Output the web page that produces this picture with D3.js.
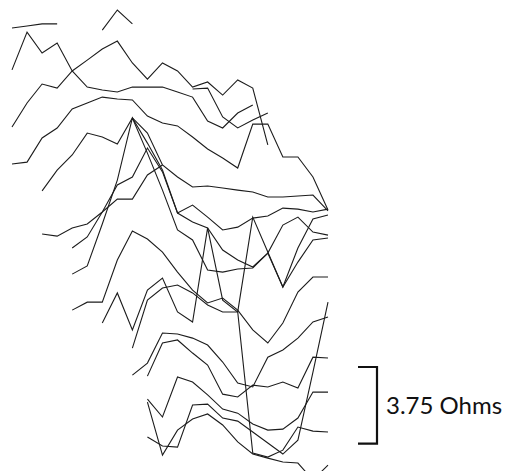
<!DOCTYPE html>
<html>
<head>
<meta charset="utf-8">
<script src="https://cdn.jsdelivr.net/npm/d3@7"></script>
<style>
  html, body { margin: 0; padding: 0; background: #fff; }
  svg { display: block; }
</style>
</head>
<body>
<svg id="chart" width="510" height="471"></svg>
<script>
// Impedance traces, one value per sampling step, in Ohms (offset downward).
// null marks steps where a trace has no reading.
const _ = null;
const steps = [1, 2, 3, 4, 5, 6, 7, 8, 9, 10, 11, 12, 13, 14, 15, 16, 17, 18, 19, 20, 21, 22];

const trace01 = [1.37, 1.27, 1.17, 1.17, _, _, 1.47, 0.49, 1.17, _, _, _, _, _, _, _, _, _, _, _, _, _];
const trace02 = [3.42, 1.57, 2.59, 2.10, 3.47, 4.26, 4.40, 4.50, 4.26, 4.26, 4.26, 4.50, 4.75, 5.92, 6.26, 5.53, 5.14, _, _, _, _, _];
const trace03 = [6.21, 5.04, 4.11, 4.31, 3.47, 2.94, 2.40, 2.01, 3.08, 3.87, 3.08, 3.47, 4.26, 4.01, 4.65, 3.91, 4.31, 7.09, _, _, _, _];
const trace04 = [8.02, 7.93, 6.75, 6.26, 5.33, 5.04, 4.75, 4.84, 4.89, 5.68, 6.02, 6.16, 6.70, 7.29, 7.73, 8.22, 6.07, 6.07, 7.68, 7.68, 8.66, 10.27];
const trace05 = [_, _, _, _, _, _, _, _, _, _, _, _, 4.35, 4.31, 5.72, 6.26, 5.87, 5.53, _, _, _, _];
const trace06 = [_, _, 9.34, 8.32, 7.58, 6.51, 6.70, 7.05, 5.77, 6.51, 8.07, 8.66, 9.15, 9.10, 9.20, 9.30, 9.39, 9.64, 9.64, 9.59, 9.54, 10.32];
const trace07 = [_, _, 11.45, 11.55, 11.15, 10.96, 10.37, 9.74, 9.74, 8.56, 8.07, _, _, _, _, _, _, _, _, _, _, _];
const trace08 = [_, _, _, _, 12.13, 11.59, 10.37, 9.05, 8.66, 7.24, 8.41, 10.42, 10.03, 10.62, 11.25, 11.11, 10.67, 10.57, 10.18, 10.23, 10.37, 10.23];
const trace09 = [_, _, _, _, 13.41, 13.01, 10.96, 8.81, 5.77, 7.49, 9.30, 11.25, 11.74, 13.21, 13.31, 13.16, 13.11, 12.38, 14.04, 12.82, 11.74, 11.64];
const trace10 = [_, _, _, _, _, _, _, _, 5.77, 7.00, 8.32, 10.42, 10.86, 11.15, 12.23, 12.72, 13.06, 12.38, 11.01, 10.62, 11.35, 11.50];
const trace11 = [_, _, _, _, 15.17, 14.78, 14.78, 12.72, 11.30, 11.69, 12.33, 13.31, 14.19, 14.82, 14.58, 15.17, 16.14, 16.78, 15.80, 14.29, 13.55, 13.55];
const trace12 = [_, _, _, _, _, _, _, _, 18.35, 17.76, 16.29, 16.34, 16.54, 16.88, 17.71, 18.74, 18.93, 17.47, 17.12, 16.54, 15.75, 15.51];
const trace13 = [_, _, _, _, _, _, _, _, _, 18.40, 16.78, 16.63, 17.27, 17.86, 19.28, 19.42, 18.84, 18.93, 18.69, 18.98, 17.47, 17.51];
const trace14 = [_, _, _, _, _, _, _, _, _, 19.52, 20.40, 18.44, 18.69, 19.32, 20.01, 20.21, 20.74, 21.04, 20.99, 20.45, 19.18, 19.18];
const trace15 = [_, _, _, _, _, _, _, _, _, 21.38, 21.82, 21.87, 19.81, 19.77, 20.45, 20.60, 21.13, 21.67, 22.21, 21.53, 18.20, 14.78];
const trace16 = [_, _, _, _, _, _, _, _, _, 19.67, 22.26, 21.04, 20.50, 20.25, 20.79, 21.62, 22.21, 22.41, 22.60, 22.65, 23.48, 22.75];
const trace17 = [_, _, _, _, _, _, 15.80, 14.33, 16.14, 14.19, 13.60, 15.26, 15.75, 11.15, 14.68, 15.26, 22.16, 22.36, 22.02, 20.89, 21.09, 21.13];
const trace18 = [_, _, _, _, _, _, _, _, 17.03, 14.68, 14.09, 13.94, 14.33, 14.92, 15.26, 15.26, 10.62, 12.33, 14.04, 12.13, 10.71, 10.52];

const traces = [trace01, trace02, trace03, trace04, trace05, trace06, trace07, trace08, trace09,
                trace10, trace11, trace12, trace13, trace14, trace15, trace16, trace17, trace18];

const scaleBarOhms = 3.75;
const scaleBarLabel = "3.75 Ohms";

const width = 510, height = 471;
const svg = d3.select("#chart");

const x = d3.scaleLinear().domain([steps[0], steps[steps.length - 1]]).range([12, 328]);
const y = d3.scaleLinear().domain([0, 23.04]).range([0, height]);

const line = d3.line()
  .defined(d => d.v !== null)
  .x(d => x(d.step))
  .y(d => y(d.v));

svg.append("g")
  .attr("class", "traces")
  .selectAll("path")
  .data(traces)
  .join("path")
  .attr("d", t => line(t.map((v, i) => ({ step: steps[i], v }))))
  .attr("fill", "none")
  .attr("stroke", "#1c1c1c")
  .attr("stroke-width", 1.1)
  .attr("stroke-linejoin", "miter");

// Scale bar: a bracket whose height is 3.75 Ohms on the trace scale
const barTop = 367;
const barRight = 377;
const barLeft = 358;
const barH = y(scaleBarOhms) - y(0);
const bar = svg.append("g").attr("class", "scale-bar");
bar.append("path")
  .attr("d", `M${barLeft},${barTop}H${barRight}V${barTop + barH}H${barLeft}`)
  .attr("fill", "none")
  .attr("stroke", "#111")
  .attr("stroke-width", 2.2);
bar.append("text")
  .attr("x", 386)
  .attr("y", barTop + barH / 2 + 9)
  .attr("font-family", "Lato, 'Open Sans', sans-serif")
  .attr("font-size", 24)
  .attr("fill", "#111")
  .text(scaleBarLabel);
</script>
</body>
</html>
